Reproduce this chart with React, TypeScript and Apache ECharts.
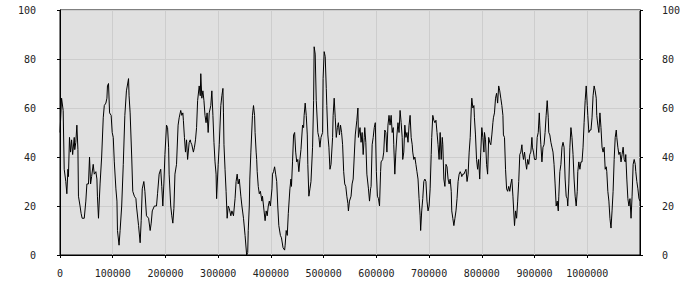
import React, { useEffect, useRef } from "react";
import * as echarts from "echarts";

// [position in thousands, value]
const segmentA: [number, number][] = [
  [0, 50], [3, 64], [6, 59], [8, 35], [11, 30], [13, 25], [15, 35], [16, 32], [18, 48], [20, 42],
  [22, 47], [24, 41], [27, 48], [28, 43], [30, 46], [32, 53], [34, 43], [35, 24], [38, 20], [40, 17],
  [42, 15], [46, 15], [49, 22], [51, 29], [54, 29], [56, 40], [58, 29], [60, 32], [63, 37], [65, 33],
  [68, 34], [70, 31], [71, 24], [73, 15], [74, 20], [76, 29], [79, 40], [82, 56], [84, 61], [87, 62],
  [89, 64], [90, 69], [92, 70], [94, 58], [97, 57], [99, 50], [101, 48], [103, 38], [106, 27], [108, 22],
  [109, 10], [112, 4], [114, 10], [117, 20], [120, 37], [123, 57], [126, 67], [130, 72], [131, 65], [133, 58],
  [136, 40], [138, 26], [141, 24], [144, 23], [145, 20], [149, 12], [152, 5], [154, 14], [156, 27], [159, 30],
  [161, 26], [164, 16], [168, 15], [171, 10], [173, 13], [175, 18], [179, 20],
];

const segmentB: [number, number][] = [
  [183, 20], [185, 25], [188, 33], [191, 35], [193, 28], [195, 20], [197, 29], [199, 41], [202, 53], [204, 52],
  [206, 44], [207, 33], [210, 20], [212, 16], [214, 13], [216, 19], [218, 33], [221, 37], [224, 53], [226, 56],
  [229, 59], [231, 57], [233, 58], [234, 55], [236, 48], [238, 42], [240, 47], [242, 39], [245, 46], [247, 47],
  [248, 46], [250, 45], [253, 42], [255, 44], [257, 47], [259, 52], [261, 63], [264, 69], [266, 65], [267, 74],
  [269, 64], [271, 67], [273, 63], [275, 57], [277, 54], [279, 58], [281, 50], [283, 58], [286, 61], [288, 67],
  [290, 57], [292, 46], [294, 38], [296, 33], [297, 23], [300, 37], [302, 45], [305, 61], [307, 65], [309, 68],
  [310, 58], [311, 45], [313, 35], [315, 26], [317, 15], [319, 20], [321, 19], [324, 16], [326, 18], [329, 16],
  [332, 23], [334, 30], [336, 33], [338, 29], [340, 31], [343, 24], [345, 20], [348, 15], [351, 8], [354, 0],
  [356, 1], [357, 10], [359, 20],
];

const segmentC: [number, number][] = [
  [360, 31], [362, 42], [365, 57], [367, 61], [369, 57], [370, 50], [372, 42], [373, 39], [374, 34], [376, 28],
  [378, 25], [380, 26], [383, 22], [384, 24], [387, 18], [389, 14], [391, 18], [393, 16], [395, 20], [397, 22],
  [399, 20], [402, 27], [403, 33], [405, 34], [407, 36], [409, 33], [411, 30], [413, 20], [415, 12], [418, 8],
  [420, 7], [423, 3], [426, 2], [427, 4], [429, 10], [431, 8], [433, 17], [436, 27], [438, 31], [439, 28],
  [441, 38], [443, 49], [445, 50], [447, 42], [449, 38], [451, 39], [453, 34], [455, 39], [457, 43], [460, 53],
  [462, 52], [463, 57], [465, 62], [467, 57], [469, 49], [470, 37], [472, 24], [474, 27], [476, 30], [479, 44],
  [481, 63], [482, 85], [484, 82], [486, 63], [489, 50], [491, 48], [493, 44], [495, 48], [498, 50], [499, 72],
  [501, 83], [503, 81], [505, 68], [506, 61], [508, 49], [510, 44], [512, 35], [514, 37], [517, 48], [518, 57],
  [520, 64], [522, 56], [524, 48], [526, 52], [528, 54], [530, 49], [532, 53], [534, 50], [536, 45], [538, 34],
  [540, 29],
];

const segmentD: [number, number][] = [
  [542, 28], [544, 24], [546, 21], [547, 18], [549, 22], [552, 24], [554, 29], [556, 31], [558, 40], [560, 49],
  [563, 55], [565, 60], [566, 48], [569, 52], [571, 46], [573, 50], [575, 41], [577, 48], [578, 52], [580, 46],
  [582, 33], [585, 27], [587, 22], [589, 27], [590, 28], [592, 45], [594, 48], [596, 52], [598, 54], [600, 34],
  [602, 24], [604, 23], [606, 20], [608, 34], [609, 38], [612, 39], [614, 42], [616, 51], [618, 50], [620, 42],
  [622, 53], [624, 57], [626, 53], [628, 57], [630, 50], [632, 52], [633, 45], [635, 33], [637, 42], [639, 49],
  [641, 54], [643, 50], [645, 59], [647, 54], [649, 48], [650, 39], [652, 42], [654, 53], [656, 48], [658, 50],
  [660, 46], [662, 53], [664, 57], [666, 48], [668, 45], [669, 42], [671, 39], [673, 40], [675, 37], [677, 34],
  [679, 31], [681, 23], [683, 16], [684, 10], [686, 18], [688, 23], [690, 30], [692, 31], [694, 30], [696, 22],
  [698, 18], [700, 20], [702, 27], [704, 41], [705, 48], [707, 57], [709, 55], [711, 54], [713, 55], [715, 50],
  [717, 45], [719, 39],
];

const segmentE: [number, number][] = [
  [721, 50], [723, 39], [725, 48], [726, 45], [728, 31], [730, 28], [732, 37], [734, 36], [736, 31], [738, 29],
  [740, 31], [742, 26], [743, 18], [745, 15], [747, 12], [749, 15], [751, 18], [753, 23], [755, 30], [757, 33],
  [759, 34], [761, 33], [762, 32], [764, 33], [766, 33], [768, 34], [770, 35], [772, 30], [774, 33], [776, 42],
  [778, 48], [780, 60], [781, 64], [783, 60], [785, 61], [786, 56], [788, 49], [790, 39], [792, 35], [794, 39],
  [796, 31], [798, 42], [800, 52], [802, 48], [804, 42], [805, 50], [807, 47], [809, 37], [811, 33], [813, 48],
  [815, 46], [817, 45], [819, 49], [821, 54], [822, 56], [824, 58], [826, 64], [828, 66], [830, 62], [832, 69],
  [834, 67], [836, 64], [838, 61], [840, 57], [841, 49], [843, 48], [845, 35], [847, 27], [849, 26], [851, 28],
  [853, 26], [855, 29], [857, 31], [859, 24], [860, 20], [862, 12], [864, 18], [866, 15], [868, 22], [870, 30],
  [872, 41], [874, 42], [876, 45], [877, 42], [879, 39], [881, 42], [883, 38], [885, 35], [887, 39], [889, 37],
  [891, 41], [893, 42], [895, 48], [896, 44], [898, 42], [900, 39],
];

const segmentF: [number, number][] = [
  [903, 39], [905, 48], [907, 50], [909, 58], [910, 53], [912, 45], [914, 38], [916, 44], [918, 45], [920, 50],
  [922, 57], [924, 63], [926, 56], [927, 50], [929, 49], [931, 46], [933, 44], [935, 42], [937, 37], [939, 29],
  [941, 20], [943, 22], [945, 18], [946, 24], [948, 34], [950, 37], [952, 44], [954, 46], [956, 44], [958, 31],
  [960, 24], [962, 23], [963, 20], [965, 29], [967, 44], [969, 52], [971, 48], [973, 41], [975, 31], [977, 24],
  [979, 20], [981, 26], [982, 34], [984, 38], [986, 35], [988, 38], [990, 38], [992, 44], [994, 54], [996, 63],
  [998, 69], [1000, 61], [1001, 57], [1003, 50], [1005, 51], [1007, 51], [1009, 56], [1011, 65], [1013, 69], [1015, 67],
  [1017, 64], [1018, 57], [1020, 53], [1022, 50], [1024, 58], [1026, 52], [1028, 44], [1030, 42], [1032, 44], [1034, 35],
  [1036, 36], [1037, 34], [1039, 26], [1041, 22], [1043, 15], [1045, 11], [1047, 18], [1049, 26], [1051, 39], [1053, 48],
  [1055, 51], [1056, 48], [1058, 44], [1060, 41], [1062, 42], [1064, 38], [1066, 41], [1068, 44], [1070, 39], [1072, 38],
  [1073, 41], [1075, 31], [1077, 23], [1079, 20], [1081, 23], [1083, 15], [1085, 24], [1087, 37], [1089, 39], [1091, 37],
  [1092, 34], [1094, 30], [1096, 27], [1098, 23], [1100, 22],
];

const X_MIN = 0;
const X_MAX = 1100000;
const X_STEP = 100000;
const Y_MIN = 0;
const Y_MAX = 100;
const Y_STEP = 20;

const points = [...segmentA, ...segmentB, ...segmentC, ...segmentD, ...segmentE, ...segmentF].map(
  ([k, v]) => [k * 1000, v]
);

export default function App() {
  const ref = useRef<HTMLDivElement>(null);

  useEffect(() => {
    const chart = echarts.init(ref.current as HTMLDivElement, null, { renderer: "svg" });
    const labelFont = {
      fontFamily: "DejaVu Sans Mono",
      fontSize: 10,
      color: "#222",
    };
    const axisLineStyle = { color: "#000", width: 1 };
    const gridLineStyle = { color: "#cdcdcd", width: 1 };
    const plain = (v: number) => String(v);
    chart.setOption({
      animation: false,
      grid: {
        left: 60,
        right: 60,
        top: 10,
        bottom: 45,
        show: true,
        backgroundColor: "#e0e0e0",
        borderColor: "#000",
        borderWidth: 1,
      },
      xAxis: {
        type: "value",
        min: X_MIN,
        max: X_MAX,
        interval: X_STEP,
        axisLine: { show: true, onZero: false, lineStyle: axisLineStyle },
        axisTick: { show: true, length: 3, inside: false, lineStyle: axisLineStyle },
        axisLabel: { ...labelFont, margin: 13, showMaxLabel: false, formatter: plain },
        splitLine: { show: true, lineStyle: gridLineStyle },
      },
      yAxis: [
        {
          type: "value",
          position: "left",
          min: Y_MIN,
          max: Y_MAX,
          interval: Y_STEP,
          axisLine: { show: true, lineStyle: axisLineStyle },
          axisTick: { show: true, length: 3, lineStyle: axisLineStyle },
          axisLabel: { ...labelFont, margin: 24, formatter: plain },
          splitLine: { show: true, lineStyle: gridLineStyle },
        },
        {
          type: "value",
          position: "right",
          min: Y_MIN,
          max: Y_MAX,
          interval: Y_STEP,
          axisLine: { show: true, lineStyle: axisLineStyle },
          axisTick: { show: true, length: 3, lineStyle: axisLineStyle },
          axisLabel: { ...labelFont, margin: 22, formatter: plain },
          splitLine: { show: false },
        },
      ],
      series: [
        {
          type: "line",
          yAxisIndex: 0,
          data: points,
          showSymbol: false,
          symbol: "none",
          lineStyle: { color: "#000", width: 1 },
        },
      ],
    });
    return () => chart.dispose();
  }, []);

  return (
    <div
      ref={ref}
      style={{ position: "absolute", left: 0, top: 0, width: 700, height: 300 }}
    />
  );
}
